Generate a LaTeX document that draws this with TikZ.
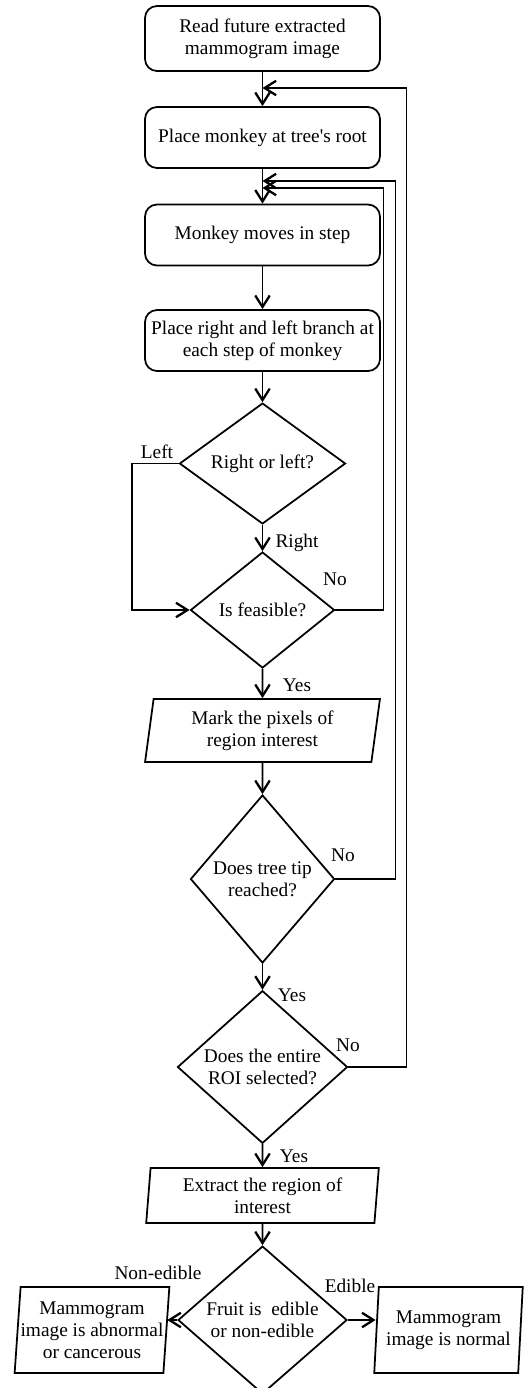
\documentclass[tikz,border=0pt]{standalone}
\usepackage{fontspec}
\setmainfont{Liberation Serif}
\usetikzlibrary{shapes.geometric,arrows.meta}
\tikzset{
	flowbox/.style={draw, rounded corners=0.24cm, line width=1pt, minimum width=4.70cm, minimum height=1.22cm, align=center, inner sep=1pt},
	decide/.style={draw, diamond, line width=1pt, inner sep=0pt, align=center},
	iobox/.style={draw, trapezium, trapezium left angle=82, trapezium right angle=98, trapezium stretches=true, line width=1pt, align=center, inner sep=0pt},
	flow/.style={line width=1pt, -{Straight Barb[length=2.3mm,width=2.9mm,line width=1.3pt]}},
	lbl/.style={inner sep=0pt}
}

\begin{document}
\begin{tikzpicture}[font=\fontsize{11}{12.5}\selectfont]
			%%%%% START %%%%%
			\useasboundingbox (0, 0) rectangle (10.5, -27.76);
			
			\node[flowbox, minimum height=1.30cm] (read) at (5.25, -0.77) {Read future extracted\\mammogram image};
			\node[flowbox] (root) at (5.25, -2.75) {Place monkey at tree{\textquotesingle}s root};
			\node[flowbox] (move) at (5.25, -4.70) {Monkey moves in step};
			\node[flowbox] (branch) at (5.25, -6.81) {Place right and left branch at\\each step of monkey};
			
			\node[decide, minimum width=3.32cm, minimum height=2.22cm] (side) at (5.25, -9.27) {Right or left?};
			\node[decide, minimum width=2.88cm, minimum height=2.32cm] (feas) at (5.25, -12.20) {Is feasible?};
			\node[iobox, minimum width=4.72cm, minimum height=1.26cm] (mark) at (5.25, -14.61) {Mark the pixels of\\region interest};
			\node[decide, minimum width=2.88cm, minimum height=3.36cm] (tip) at (5.25, -17.58) {Does tree tip\\reached?};
			\node[decide, minimum width=3.40cm, minimum height=2.80cm] (roi) at (5.25, -21.34) {Does the entire\\ROI selected?};
			\node[iobox, trapezium left angle=85, trapezium right angle=95, minimum width=4.66cm, minimum height=1.10cm] (extract) at (5.25, -23.91) {Extract the region of\\interest};
			\node[decide, minimum width=3.38cm, minimum height=2.72cm] (fruit) at (5.25, -26.40) {Fruit is~ edible\\or non-edible};
			
			\node[iobox, trapezium left angle=84, trapezium right angle=96, minimum width=3.04cm, minimum height=1.72cm] (abn) at (1.84, -26.60) {Mammogram\\image is abnormal\\or cancerous};
			\node[iobox, trapezium left angle=84, trapezium right angle=96, minimum width=2.98cm, minimum height=1.72cm] (norm) at (8.97, -26.60) {Mammogram\\image is normal};
			
			\coordinate (back1) at (5.25, -1.76);
			\coordinate (back2) at (5.25, -3.62);
			\coordinate (back3) at (5.25, -3.76);
			
			\draw[flow] (read) -- (root);
			\draw[flow] (root) -- (move);
			\draw[flow] (move) -- (branch);
			\draw[flow] (branch) -- (side);
			\draw[flow] (side) -- (feas);
			\draw[flow] (feas) -- (mark);
			\draw[flow] (mark) -- (tip);
			\draw[flow] (tip) -- (roi);
			\draw[flow] (roi) -- (extract);
			\draw[flow] (extract) -- (fruit);
			
			\draw[flow] (side.west) -- ++(-0.94, 0) |- (feas.west);
			\draw[flow] (feas.east) -- ++(0.96, 0) |- (back3);
			\draw[flow] (tip.east) -- ++(1.20, 0) |- (back2);
			\draw[flow] (roi.east) -- ++(1.16, 0) |- (back1);
			
			\draw[flow] (fruit.west) -- (fruit.west -| abn.east);
			\draw[flow] (fruit.east) -- (fruit.east -| norm.west);
			
			\node[lbl] (lleft) at (3.14, -9.04) {Left};
			\node[lbl] (lright) at (5.94, -10.86) {Right};
			\node[lbl] (lno1) at (6.70, -11.58) {No};
			\node[lbl] (lyes1) at (5.94, -13.70) {Yes};
			\node[lbl] (lno2) at (6.86, -17.10) {No};
			\node[lbl] (lyes2) at (5.84, -19.90) {Yes};
			\node[lbl] (lno3) at (6.96, -20.90) {No};
			\node[lbl] (lyes3) at (5.88, -23.12) {Yes};
			\node[lbl] (lnon) at (3.16, -25.46) {Non-edible};
			\node[lbl] (ledible) at (7.00, -25.72) {Edible};
			
			%%%%% END %%%%%
\end{tikzpicture}
\end{document}
